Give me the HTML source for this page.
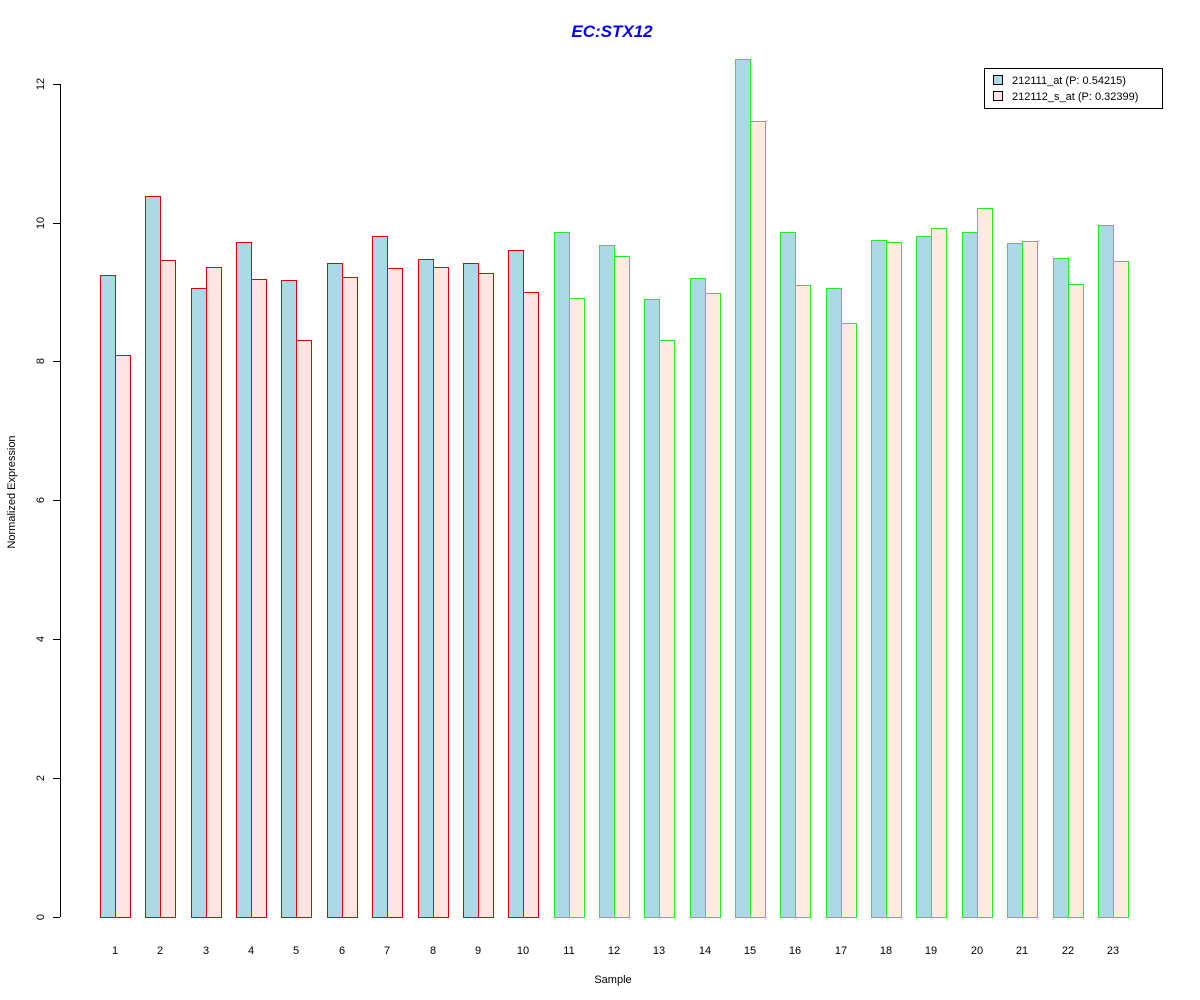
<!DOCTYPE html>
<html><head><meta charset="utf-8"><style>body{margin:0;background:#fff}svg{display:block}text{font-family:"Liberation Sans",Arial,sans-serif}</style></head>
<body>
<svg width="1200" height="1000" xmlns="http://www.w3.org/2000/svg">
<rect width="1200" height="1000" fill="#fff"/>
<text x="612" y="37" text-anchor="middle" font-size="17" font-weight="bold" font-style="italic" fill="#0000ff">EC:STX12</text>
<g stroke="#000" stroke-width="1">
<line x1="60.5" y1="84" x2="60.5" y2="917"/>
<line x1="53" y1="917.5" x2="60" y2="917.5"/>
<line x1="53" y1="778.5" x2="60" y2="778.5"/>
<line x1="53" y1="639.5" x2="60" y2="639.5"/>
<line x1="53" y1="500.5" x2="60" y2="500.5"/>
<line x1="53" y1="361.5" x2="60" y2="361.5"/>
<line x1="53" y1="223.5" x2="60" y2="223.5"/>
<line x1="53" y1="84.5" x2="60" y2="84.5"/>
</g>
<g font-size="11" text-anchor="middle" fill="#000">
<text transform="translate(44,917) rotate(-90)">0</text>
<text transform="translate(44,778) rotate(-90)">2</text>
<text transform="translate(44,639) rotate(-90)">4</text>
<text transform="translate(44,500) rotate(-90)">6</text>
<text transform="translate(44,361) rotate(-90)">8</text>
<text transform="translate(44,223) rotate(-90)">10</text>
<text transform="translate(44,84) rotate(-90)">12</text>
<text transform="translate(15,492) rotate(-90)">Normalized Expression</text>
<text x="613" y="983">Sample</text>
</g>
<g stroke="#dd0000">
<rect x="100.5" y="275.5" width="15" height="642" fill="#ADD8E6"/><rect x="115.5" y="355.5" width="15" height="562" fill="#FFE4E1"/>
<rect x="145.5" y="196.5" width="15" height="721" fill="#ADD8E6"/><rect x="160.5" y="260.5" width="15" height="657" fill="#FFE4E1"/>
<rect x="191.5" y="288.5" width="15" height="629" fill="#ADD8E6"/><rect x="206.5" y="267.5" width="15" height="650" fill="#FFE4E1"/>
<rect x="236.5" y="242.5" width="15" height="675" fill="#ADD8E6"/><rect x="251.5" y="279.5" width="15" height="638" fill="#FFE4E1"/>
<rect x="281.5" y="280.5" width="15" height="637" fill="#ADD8E6"/><rect x="296.5" y="340.5" width="15" height="577" fill="#FFE4E1"/>
<rect x="327.5" y="263.5" width="15" height="654" fill="#ADD8E6"/><rect x="342.5" y="277.5" width="15" height="640" fill="#FFE4E1"/>
<rect x="372.5" y="236.5" width="15" height="681" fill="#ADD8E6"/><rect x="387.5" y="268.5" width="15" height="649" fill="#FFE4E1"/>
<rect x="418.5" y="259.5" width="15" height="658" fill="#ADD8E6"/><rect x="433.5" y="267.5" width="15" height="650" fill="#FFE4E1"/>
<rect x="463.5" y="263.5" width="15" height="654" fill="#ADD8E6"/><rect x="478.5" y="273.5" width="15" height="644" fill="#FFE4E1"/>
<rect x="508.5" y="250.5" width="15" height="667" fill="#ADD8E6"/><rect x="523.5" y="292.5" width="15" height="625" fill="#FFE4E1"/>
</g>
<g stroke="#22ee22">
<rect x="554.5" y="232.5" width="15" height="685" fill="#ADD8E6"/><rect x="569.5" y="298.5" width="15" height="619" fill="#FDEBDD"/>
<rect x="599.5" y="245.5" width="15" height="672" fill="#ADD8E6"/><rect x="614.5" y="256.5" width="15" height="661" fill="#FDEBDD"/>
<rect x="644.5" y="299.5" width="15" height="618" fill="#ADD8E6"/><rect x="659.5" y="340.5" width="15" height="577" fill="#FDEBDD"/>
<rect x="690.5" y="278.5" width="15" height="639" fill="#ADD8E6"/><rect x="705.5" y="293.5" width="15" height="624" fill="#FDEBDD"/>
<rect x="735.5" y="59.5" width="15" height="858" fill="#ADD8E6"/><rect x="750.5" y="121.5" width="15" height="796" fill="#FDEBDD"/>
<rect x="780.5" y="232.5" width="15" height="685" fill="#ADD8E6"/><rect x="795.5" y="285.5" width="15" height="632" fill="#FDEBDD"/>
<rect x="826.5" y="288.5" width="15" height="629" fill="#ADD8E6"/><rect x="841.5" y="323.5" width="15" height="594" fill="#FDEBDD"/>
<rect x="871.5" y="240.5" width="15" height="677" fill="#ADD8E6"/><rect x="886.5" y="242.5" width="15" height="675" fill="#FDEBDD"/>
<rect x="916.5" y="236.5" width="15" height="681" fill="#ADD8E6"/><rect x="931.5" y="228.5" width="15" height="689" fill="#FDEBDD"/>
<rect x="962.5" y="232.5" width="15" height="685" fill="#ADD8E6"/><rect x="977.5" y="208.5" width="15" height="709" fill="#FDEBDD"/>
<rect x="1007.5" y="243.5" width="15" height="674" fill="#ADD8E6"/><rect x="1022.5" y="241.5" width="15" height="676" fill="#FDEBDD"/>
<rect x="1053.5" y="258.5" width="15" height="659" fill="#ADD8E6"/><rect x="1068.5" y="284.5" width="15" height="633" fill="#FDEBDD"/>
<rect x="1098.5" y="225.5" width="15" height="692" fill="#ADD8E6"/><rect x="1113.5" y="261.5" width="15" height="656" fill="#FDEBDD"/>
</g>
<g font-size="11" text-anchor="middle" fill="#000">
<text x="115" y="954">1</text><text x="160" y="954">2</text><text x="206" y="954">3</text><text x="251" y="954">4</text><text x="296" y="954">5</text><text x="342" y="954">6</text><text x="387" y="954">7</text><text x="433" y="954">8</text><text x="478" y="954">9</text><text x="523" y="954">10</text><text x="569" y="954">11</text><text x="614" y="954">12</text><text x="659" y="954">13</text><text x="705" y="954">14</text><text x="750" y="954">15</text><text x="795" y="954">16</text><text x="841" y="954">17</text><text x="886" y="954">18</text><text x="931" y="954">19</text><text x="977" y="954">20</text><text x="1022" y="954">21</text><text x="1068" y="954">22</text><text x="1113" y="954">23</text>
</g>
<g font-size="11" fill="#000">
<rect x="984.5" y="68.5" width="178" height="40" fill="#fff" stroke="#000"/>
<rect x="993.5" y="75.5" width="9" height="9" fill="#ADD8E6" stroke="#000"/>
<rect x="993.5" y="91.5" width="9" height="9" fill="#FFE4E1" stroke="#000"/>
<text x="1012" y="84">212111_at (P: 0.54215)</text>
<text x="1012" y="100">212112_s_at (P: 0.32399)</text>
</g>
</svg>
</body></html>
